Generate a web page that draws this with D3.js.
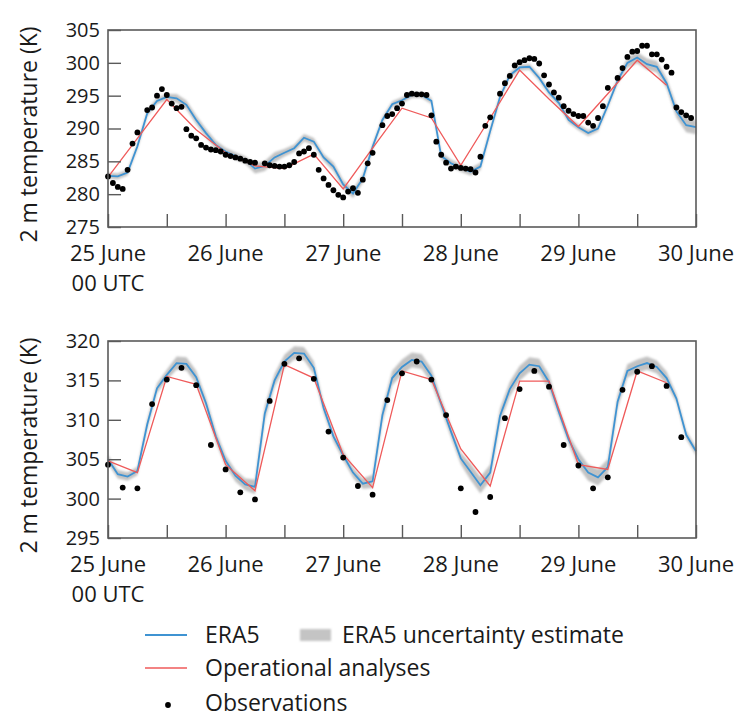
<!DOCTYPE html>
<html>
<head>
<meta charset="utf-8">
<script src="https://cdn.jsdelivr.net/npm/d3@7"></script>
<style>
body { margin: 0; background: #fff; }
svg text { font-family: "Open Sans", sans-serif; fill: #1a1a1a; }
</style>
</head>
<body>
<svg id="chart" width="743" height="717"></svg>
<script>
// time axis: hours since 25 June 00 UTC
var dayLabels = ["25 June", "26 June", "27 June", "28 June", "29 June", "30 June"];
var era5Step = 2;   // ERA5 values every 2 h
var opStep = 6;     // operational analyses every 6 h

// ---- top panel ----
var topTicks = [275, 280, 285, 290, 295, 300, 305];
var era5Top = [282.8, 282.7, 283.3, 287.3, 292.3, 294.2, 294.8, 294.6, 293.6, 291.3,
    289.3, 287.5, 286.5, 285.8, 285.2, 283.9, 284.3, 285.6, 286.3, 287.0,
    288.6, 288.0, 285.6, 284.2, 281.5, 280.1, 282.4, 287.2, 291.3, 293.7,
    294.3, 295.1, 295.1, 294.2, 285.8, 284.7, 284.0, 283.4, 284.2, 289.6,
    294.8, 298.1, 299.3, 299.4, 297.7, 295.5, 293.9, 291.3, 290.2, 289.3,
    290.0, 293.5, 297.3, 300.0, 300.8, 299.8, 299.4, 296.9, 292.6, 290.5, 290.2];
var spreadTop = [0.3, 0.3, 0.3, 0.3, 0.3, 0.3, 0.3, 0.5, 0.5, 0.5,
    0.5, 0.5, 0.4, 0.4, 0.4, 0.6, 0.6, 0.6, 0.4, 0.4,
    0.4, 0.4, 0.4, 0.5, 0.5, 0.5, 0.5, 0.3, 0.3, 0.3,
    0.3, 0.3, 0.3, 0.3, 0.4, 0.4, 0.4, 0.4, 0.4, 0.4,
    0.3, 0.3, 0.3, 0.3, 0.3, 0.3, 0.3, 0.3, 0.3, 0.3,
    0.3, 0.3, 0.3, 0.6, 0.7, 0.7, 0.7, 0.6, 0.8, 0.9, 0.9];
var opTop = [282.6, 288.5, 294.4, 289.8, 286.3, 284.3, 283.9, 286.1, 280.8, 287.0,
    293.1, 291.6, 284.4, 291.6, 298.9, 294.5, 290.3, 295.3, 300.4, 296.6];
var obsTop = [[0, 282.7], [1, 281.7], [2, 281.1], [3, 280.8], [4, 283.7], [5, 287.7], [6, 289.4],
    [8, 292.8], [9, 293.2], [10, 295.0], [11, 296.0], [12, 295.1], [13, 293.8], [14, 293.1],
    [15, 293.3], [16, 289.9], [17, 288.9], [18, 288.5], [19, 287.5], [20, 287.1], [21, 286.8],
    [22, 286.7], [23, 286.5], [24, 286.0], [25, 285.8], [26, 285.6], [27, 285.4], [28, 285.1],
    [29, 284.9], [30, 284.8], [32, 284.7], [33, 284.4], [34, 284.3], [35, 284.2], [36, 284.2],
    [37, 284.4], [38, 284.9], [39, 286.2], [40, 286.5], [41, 287.0], [42, 286.0], [43, 283.7],
    [44, 282.4], [45, 281.4], [46, 280.6], [47, 279.9], [48, 279.5], [49, 280.4], [50, 280.9],
    [51, 280.2], [52, 282.2], [53, 284.7], [54, 286.3], [56, 290.5], [57, 291.9], [58, 292.2],
    [59, 293.1], [60, 293.8], [61, 295.1], [62, 295.3], [63, 295.2], [64, 295.2], [65, 295.1],
    [66, 292.0], [67, 288.0], [68, 286.0], [69, 284.8], [70, 283.9], [71, 284.2], [72, 284.0],
    [73, 283.9], [74, 283.8], [75, 283.3], [76, 285.7], [77, 290.4], [78, 291.7], [80, 295.3],
    [81, 296.9], [82, 298.0], [83, 299.6], [84, 300.1], [85, 300.4], [86, 300.7], [87, 300.6],
    [88, 299.9], [89, 298.1], [90, 296.7], [91, 295.5], [92, 294.7], [93, 293.4], [94, 292.7],
    [95, 292.2], [96, 291.9], [97, 291.9], [98, 290.9], [99, 290.4], [100, 291.6], [101, 293.4],
    [102, 296.2], [104, 297.7], [105, 299.2], [106, 300.9], [107, 301.7], [108, 301.8],
    [109, 302.6], [110, 302.6], [111, 301.3], [112, 301.3], [113, 300.5], [114, 299.4],
    [115, 298.5], [116, 293.2], [117, 292.5], [118, 292.0], [119, 291.6]];

// ---- bottom panel ----
var bottomTicks = [295, 300, 305, 310, 315, 320];
var era5Bottom = [305.0, 303.1, 302.8, 303.5, 309.4, 314.0, 315.7, 317.2, 317.1, 315.4,
    312.1, 307.9, 304.8, 302.9, 301.8, 301.5, 310.8, 315.0, 317.4, 318.5,
    318.4, 316.6, 311.5, 307.9, 305.5, 303.3, 301.9, 302.2, 310.6, 315.3,
    316.7, 317.6, 317.4, 315.6, 312.0, 308.5, 305.1, 303.4, 301.7, 303.3,
    310.5, 313.9, 315.9, 317.0, 316.8, 314.8, 311.0, 307.5, 305.0, 303.3,
    302.7, 304.0, 312.3, 316.2, 316.8, 317.2, 316.7, 315.3, 312.7, 308.1, 306.0];
var spreadBottom = [0.4, 0.4, 0.4, 0.4, 0.5, 0.5, 0.5, 0.7, 0.7, 0.7,
    0.6, 0.6, 0.6, 0.6, 0.6, 0.8, 0.8, 0.7, 0.7, 0.7,
    0.7, 0.7, 0.5, 0.5, 0.5, 0.5, 0.5, 0.7, 0.8, 0.8,
    0.8, 0.8, 0.8, 0.8, 0.6, 0.6, 0.6, 0.9, 0.9, 0.9,
    0.8, 0.8, 0.8, 0.8, 0.8, 0.8, 0.5, 0.5, 0.9, 0.9,
    0.9, 0.9, 0.7, 0.7, 0.7, 0.7, 0.7, 0.7, 0.4, 0.4, 0.4];
var opBottom = [304.8, 303.3, 315.5, 314.5, 304.3, 301.0, 317.0, 315.3, 305.6, 301.4,
    316.2, 315.1, 306.3, 301.6, 314.9, 314.9, 304.3, 303.7, 316.2, 314.7];
var obsBottom = [[0, 304.3], [3, 301.4], [6, 301.3], [9, 312.0], [12, 315.1], [15, 316.6],
    [18, 314.4], [21, 306.8], [24, 303.7], [27, 300.8], [30, 299.9], [33, 312.4], [36, 317.1],
    [39, 317.8], [42, 315.2], [45, 308.5], [48, 305.2], [51, 301.6], [54, 300.5], [57, 312.5],
    [60, 315.9], [63, 317.4], [66, 315.1], [69, 310.6], [72, 301.3], [75, 298.3], [78, 300.2],
    [81, 310.2], [84, 313.9], [87, 316.2], [90, 314.2], [93, 306.8], [96, 304.2], [99, 301.3],
    [102, 302.7], [105, 313.8], [108, 316.1], [111, 316.8], [114, 314.3], [117, 307.8]];

var blue = "#3f93d2", red = "#ef5a5a", frameCol = "#5a5a5a";
var labelSize = 22, tickSize = 20, legendSize = 23;
var svg = d3.select("#chart");

var defs = svg.append("defs");
defs.append("filter").attr("id", "soft")
    .append("feGaussianBlur").attr("stdDeviation", 1.1);

var x = d3.scaleLinear().domain([0, 120]).range([108, 696]);

function drawPanel(top, bottom, domain, ticks, era5, spread, op, obs) {
    var y = d3.scaleLinear().domain(domain).range([bottom, top]);
    var g = svg.append("g");

    var era = era5.map(function(v, i) { return {h: i * era5Step, t: v, s: spread[i]}; });

    // uncertainty band
    g.append("path").datum(era)
        .attr("fill", "#c2c2c2")
        .attr("filter", "url(#soft)")
        .attr("d", d3.area()
            .x(function(d) { return x(d.h); })
            .y0(function(d) { return y(d.t - d.s) + 1.1; })
            .y1(function(d) { return y(d.t + d.s) - 1.1; }));

    g.append("path").datum(era)
        .attr("fill", "none").attr("stroke", blue).attr("stroke-width", 1.8)
        .attr("d", d3.line().x(function(d) { return x(d.h); }).y(function(d) { return y(d.t); }));

    g.append("path").datum(op)
        .attr("fill", "none").attr("stroke", red).attr("stroke-width", 1.3)
        .attr("d", d3.line().x(function(d, i) { return x(i * opStep); }).y(function(d) { return y(d); }));

    g.selectAll("circle").data(obs).enter().append("circle")
        .attr("cx", function(d) { return x(d[0]); })
        .attr("cy", function(d) { return y(d[1]); })
        .attr("r", 2.9).attr("fill", "#000");

    // axes with inward ticks
    var ya = g.append("g").attr("transform", "translate(108,0)")
        .call(d3.axisLeft(y).tickValues(ticks).tickSizeInner(-13).tickSizeOuter(0).tickPadding(8));
    var xa = g.append("g").attr("transform", "translate(0," + bottom + ")")
        .call(d3.axisBottom(x).tickValues(d3.range(0, 121, 12)).tickSizeInner(-13).tickSizeOuter(0)
            .tickFormat(""));
    [ya, xa].forEach(function(a) {
        a.select(".domain").remove();
        a.selectAll(".tick line").attr("stroke", frameCol).attr("stroke-width", 1.4);
    });
    ya.selectAll(".tick text").attr("font-size", tickSize).attr("fill", "#1a1a1a")
        .attr("font-family", "\"Open Sans\", sans-serif");

    g.append("rect").attr("x", x(0)).attr("y", top)
        .attr("width", x(120) - x(0)).attr("height", bottom - top)
        .attr("fill", "none").attr("stroke", frameCol).attr("stroke-width", 1.6);

    g.selectAll(".day").data(dayLabels).enter().append("text")
        .attr("x", function(d, i) { return x(i * 24); })
        .attr("y", bottom + 34)
        .attr("text-anchor", "middle").attr("font-size", labelSize)
        .text(function(d) { return d; });
    g.append("text").attr("x", x(0)).attr("y", bottom + 64)
        .attr("text-anchor", "middle").attr("font-size", labelSize).text("00 UTC");

    g.append("text")
        .attr("transform", "translate(37," + ((top + bottom) / 2 + 6) + ") rotate(-90)")
        .attr("text-anchor", "middle").attr("font-size", 23)
        .text("2 m temperature (K)");
}

drawPanel(30, 227, [275, 305], topTicks, era5Top, spreadTop, opTop, obsTop);
drawPanel(341, 538, [295, 320], bottomTicks, era5Bottom, spreadBottom, opBottom, obsBottom);

// legend
var lg = svg.append("g");
lg.append("line").attr("x1", 145).attr("x2", 187).attr("y1", 635).attr("y2", 635)
    .attr("stroke", blue).attr("stroke-width", 1.8);
lg.append("text").attr("x", 205).attr("y", 643).attr("font-size", legendSize).text("ERA5");
lg.append("rect").attr("x", 300).attr("y", 629).attr("width", 31).attr("height", 12)
    .attr("fill", "#c4c4c4").attr("filter", "url(#soft)");
lg.append("text").attr("x", 342).attr("y", 643).attr("font-size", legendSize).text("ERA5 uncertainty estimate");
lg.append("line").attr("x1", 145).attr("x2", 187).attr("y1", 668).attr("y2", 668)
    .attr("stroke", red).attr("stroke-width", 1.3);
lg.append("text").attr("x", 205).attr("y", 676).attr("font-size", legendSize).text("Operational analyses");
lg.append("circle").attr("cx", 168).attr("cy", 705).attr("r", 2.9).attr("fill", "#000");
lg.append("text").attr("x", 205).attr("y", 711).attr("font-size", legendSize).text("Observations");
</script>
</body>
</html>
